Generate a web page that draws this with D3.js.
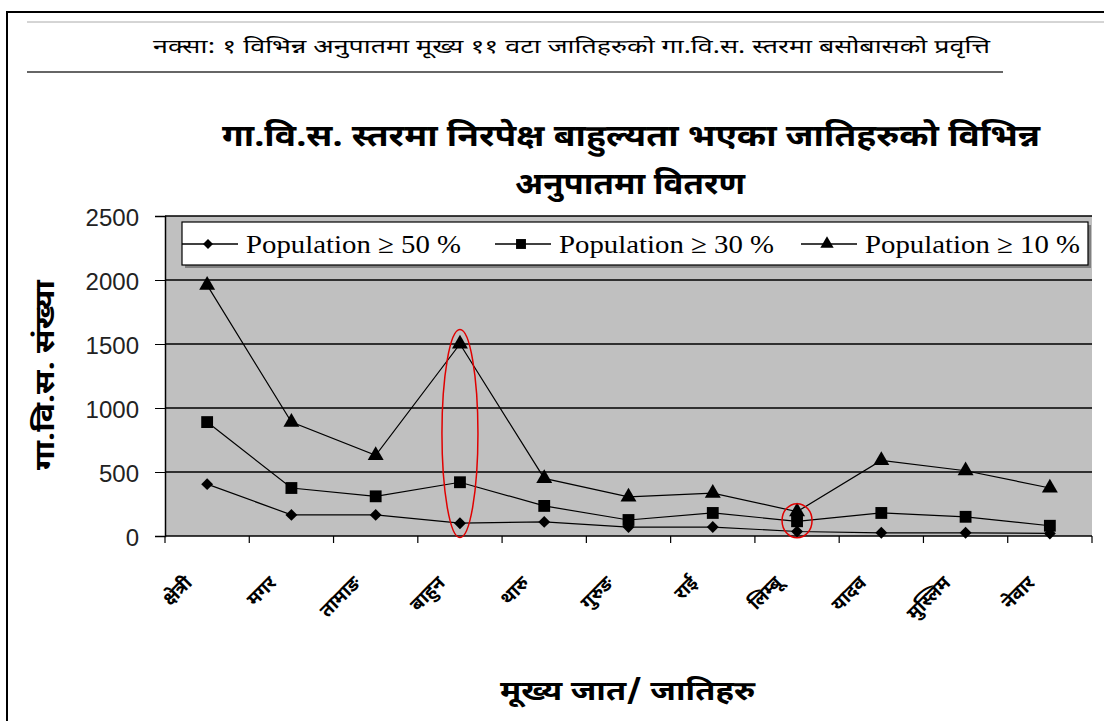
<!DOCTYPE html>
<html>
<head>
<meta charset="utf-8">
<script src="https://cdn.jsdelivr.net/npm/d3@7"></script>
<style>
  body { margin: 0; background: #fff; }
  svg { display: block; }
  .dev { font-family: "Noto Sans Devanagari", "Lohit Devanagari", "Mangal", "Noto Sans", sans-serif; }
</style>
</head>
<body>
<svg id="chart" width="1104" height="721"></svg>
<script>
var categories = ["क्षेत्री", "मगर", "तामाङ", "बाहुन", "थारु", "गुरुङ", "राई", "लिम्बू", "यादव", "मुस्लिम", "नेवार"];
var pop50 = [405, 165, 165, 100, 110, 70, 70, 35, 25, 25, 20];
var pop30 = [890, 375, 310, 420, 235, 125, 180, 115, 180, 150, 80];
var pop10 = [1960, 890, 630, 1500, 450, 305, 335, 190, 590, 510, 375];
var yTicks = [0, 500, 1000, 1500, 2000, 2500];
var seriesNames = ["Population ≥ 50 %", "Population ≥ 30 %", "Population ≥ 10 %"];
var seriesMarkers = ["diamond", "square", "triangle"];

var svg = d3.select("#chart");
var plotL = 165, plotR = 1092, plotT = 216, plotB = 536;

// page frame
svg.append("rect").attr("x", 7).attr("y", 12).attr("width", 1120).attr("height", 740)
  .style("fill", "none").style("stroke", "#000").style("stroke-width", 2);
svg.append("line").attr("x1", 27).attr("x2", 1104).attr("y1", 22).attr("y2", 22)
  .style("stroke", "#aaa").style("stroke-width", 1);
svg.append("line").attr("x1", 27).attr("x2", 1003).attr("y1", 72).attr("y2", 72)
  .style("stroke", "#333").style("stroke-width", 1.5);
svg.append("text").attr("class", "dev").attr("x", 153).attr("y", 53)
  .attr("textLength", 837).attr("lengthAdjust", "spacingAndGlyphs")
  .style("font-size", "19px")
  .text("नक्सा: १ विभिन्न अनुपातमा मूख्य ११ वटा जातिहरुको गा.वि.स. स्तरमा बसोबासको प्रवृत्ति");

// chart title
svg.append("text").attr("class", "dev").attr("x", 222).attr("y", 146)
  .attr("textLength", 818).attr("lengthAdjust", "spacingAndGlyphs")
  .style("font-size", "30px").style("font-weight", "bold")
  .text("गा.वि.स. स्तरमा निरपेक्ष बाहुल्यता भएका जातिहरुको विभिन्न");
svg.append("text").attr("class", "dev").attr("x", 515).attr("y", 194)
  .attr("textLength", 230).attr("lengthAdjust", "spacingAndGlyphs")
  .style("font-size", "30px").style("font-weight", "bold")
  .text("अनुपातमा वितरण");

var x = d3.scaleBand().domain(categories).range([plotL, plotR]);
var y = d3.scaleLinear().domain([0, 2500]).range([plotB, plotT]);

// plot area
svg.append("rect").attr("x", plotL).attr("y", plotT).attr("width", plotR - plotL).attr("height", plotB - plotT)
  .style("fill", "#c0c0c0");
svg.append("g").selectAll("line").data(yTicks.slice(1)).enter().append("line")
  .attr("x1", plotL).attr("x2", plotR)
  .attr("y1", function(d){ return y(d); }).attr("y2", function(d){ return y(d); })
  .style("stroke", "#000").style("stroke-width", 1.5);

// y axis
var yAxis = svg.append("g").attr("transform", "translate(" + plotL + ",0)")
  .call(d3.axisLeft(y).tickValues(yTicks).tickSize(10).tickPadding(16).tickFormat(d3.format("d")));
yAxis.select(".domain").style("stroke", "#000").style("stroke-width", 1.5);
yAxis.selectAll(".tick line").style("stroke", "#000");
yAxis.selectAll(".tick text").style("font-family", "Arial, 'Liberation Sans', sans-serif")
  .style("font-size", "24px").style("fill", "#222").attr("dy", "0.4em");

// x axis: ticks at category edges
svg.append("line").attr("x1", plotL).attr("x2", plotR).attr("y1", plotB).attr("y2", plotB)
  .style("stroke", "#000").style("stroke-width", 1.5);
var edges = categories.map(function(c){ return x(c); }).concat([plotR]);
svg.append("g").selectAll("line").data(edges).enter().append("line")
  .attr("x1", function(d){ return d; }).attr("x2", function(d){ return d; })
  .attr("y1", plotB).attr("y2", plotB + 7)
  .style("stroke", "#000").style("stroke-width", 1.2);
svg.append("g").selectAll("text").data(categories).enter().append("text")
  .attr("class", "dev")
  .attr("transform", function(d){
    return "translate(" + (x(d) + x.bandwidth() / 2 - 14) + "," + (plotB + 48) + ") rotate(-45)";
  })
  .attr("text-anchor", "end").style("font-size", "19px").style("font-weight", "bold")
  .text(function(d){ return d; });

// axis titles
svg.append("text").attr("class", "dev")
  .attr("transform", "translate(54,470) rotate(-90)")
  .attr("textLength", 190).attr("lengthAdjust", "spacingAndGlyphs")
  .style("font-size", "27px").style("font-weight", "bold")
  .text("गा.वि.स. संख्या");
svg.append("text").attr("class", "dev").attr("x", 500).attr("y", 700)
  .attr("textLength", 255).attr("lengthAdjust", "spacingAndGlyphs")
  .style("font-size", "27px").style("font-weight", "bold")
  .text("मूख्य जात/ जातिहरु");

// markers
function markerPath(type, s){
  if (type === "diamond") return d3.symbol().type(d3.symbolDiamond2).size(s * 0.9)();
  if (type === "square") return d3.symbol().type(d3.symbolSquare).size(s * 1.4)();
  return d3.symbol().type(d3.symbolTriangle).size(s * 1.1)();
}

var line = d3.line()
  .x(function(d, i){ return x(categories[i]) + x.bandwidth() / 2; })
  .y(function(d){ return y(d); });

[pop50, pop30, pop10].forEach(function(series, k){
  svg.append("path").datum(series).attr("d", line)
    .style("fill", "none").style("stroke", "#000").style("stroke-width", 1.2);
  svg.append("g").selectAll("path").data(series).enter().append("path")
    .attr("d", markerPath(seriesMarkers[k], 100))
    .attr("transform", function(d, i){
      return "translate(" + (x(categories[i]) + x.bandwidth() / 2) + "," + y(d) + ")";
    })
    .style("fill", "#000");
});

// red highlight ellipses
svg.append("ellipse").attr("cx", x(categories[3]) + x.bandwidth() / 2).attr("cy", y(800))
  .attr("rx", 18).attr("ry", 104)
  .style("fill", "none").style("stroke", "#e00000").style("stroke-width", 1.5);
svg.append("ellipse").attr("cx", x(categories[7]) + x.bandwidth() / 2).attr("cy", y(120))
  .attr("rx", 15).attr("ry", 17)
  .style("fill", "none").style("stroke", "#e00000").style("stroke-width", 1.5);

// legend
var lg = svg.append("g");
lg.append("rect").attr("x", 185).attr("y", 225).attr("width", 906).attr("height", 43).style("fill", "#808080");
lg.append("rect").attr("x", 182).attr("y", 222).attr("width", 906).attr("height", 43)
  .style("fill", "#fff").style("stroke", "#000").style("stroke-width", 1.2);
var legendX = [182, 495, 801];
seriesNames.forEach(function(name, k){
  var lx = legendX[k];
  lg.append("line").attr("x1", lx).attr("x2", lx + 56).attr("y1", 244).attr("y2", 244)
    .style("stroke", "#000").style("stroke-width", 1.5);
  lg.append("path").attr("d", markerPath(seriesMarkers[k], 70))
    .attr("transform", "translate(" + (lx + 26) + ",244)").style("fill", "#000");
  lg.append("text").attr("x", lx + 64).attr("y", 253)
    .attr("textLength", 215).attr("lengthAdjust", "spacingAndGlyphs")
    .style("font-family", "'Liberation Serif', 'Times New Roman', serif").style("font-size", "26px")
    .text(name);
});
</script>
</body>
</html>
